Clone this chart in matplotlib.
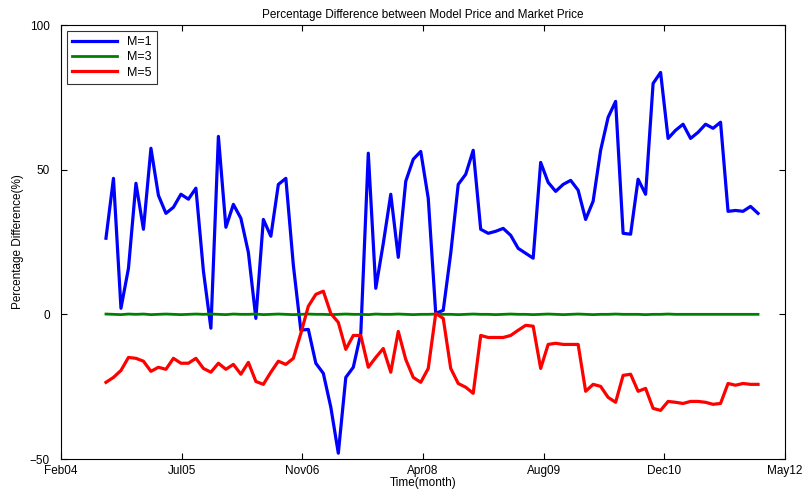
import numpy as np
import matplotlib
matplotlib.use("Agg")
import matplotlib.pyplot as plt

# monthly observations, Aug04 .. Jan12 (88 points)
m1 = [26.3, 47.0, 2.1, 15.9, 45.3, 29.4, 57.4, 41.1, 34.9, 37.0, 41.5, 39.8, 43.6, 15.0,
      -4.8, 61.5, 30.1, 38.0, 33.2, 21.4, -1.4, 32.8, 27.0, 44.9, 47.0, 17.0, -5.5, -5.2,
      -16.9, -20.4, -32.1, -48.0, -21.8, -18.3, -6.6, 55.7, 9.0, 24.5, 41.5, 19.7, 46.0, 53.6,
      56.3, 40.1, 0.3, 1.4, 21.1, 44.9, 48.4, 56.7, 29.4, 28.0, 28.7, 29.7, 27.3, 22.8, 21.1,
      19.4, 52.5, 45.6, 42.5, 44.9, 46.3, 42.9, 32.8, 39.1, 56.7, 68.1, 73.6, 28.0, 27.7, 46.7,
      41.5, 79.8, 83.6, 60.8, 63.6, 65.7, 60.8, 62.9, 65.7, 64.3, 66.4, 35.6, 35.9, 35.6, 37.3, 34.9]
m5 = [-23.5, -21.8, -19.4, -14.9, -15.2, -16.2, -19.7, -18.3, -19.0, -15.2, -16.9, -16.9, -15.2,
      -18.7, -20.0, -16.9, -19.0, -17.3, -20.7, -16.6, -23.2, -24.2, -20.0, -16.2, -17.3, -15.2,
      -6.6, 2.8, 6.9, 8.0, 0.3, -2.8, -12.1, -7.3, -7.3, -18.3, -14.9, -11.8, -20.0, -5.9, -15.6,
      -21.8, -23.5, -18.7, 0.3, -1.4, -18.7, -23.9, -25.2, -27.3, -7.3, -8.0, -8.0, -8.0, -7.3,
      -5.5, -3.8, -4.1, -18.7, -10.4, -10.0, -10.4, -10.4, -10.4, -26.6, -24.2, -24.9, -28.7,
      -30.4, -21.1, -20.7, -26.6, -25.6, -32.5, -33.2, -30.1, -30.4, -30.8, -30.1, -30.1, -30.4,
      -31.1, -30.8, -23.9, -24.5, -23.9, -24.2, -24.2]
m3 = [0.1, 0.0, -0.1, 0.1, 0.0, 0.1, -0.1, 0.0, 0.1, 0.0, -0.1, 0.0, 0.1, 0.0, 0.1, 0.0, -0.1,
      0.1, 0.0, 0.0, 0.1, -0.1, 0.0, 0.1, 0.0, -0.1, 0.0, 0.1, 0.0, 0.0, -0.1, 0.0, 0.1, 0.0,
      0.0, -0.1, 0.1, 0.0, 0.0, 0.1, 0.0, -0.1, 0.0, 0.0, 0.1, 0.0, 0.0, -0.1, 0.0, 0.1, 0.0,
      0.0, -0.1, 0.0, 0.1, 0.0, 0.0, -0.1, 0.0, 0.1, 0.0, -0.1, 0.0, 0.1, 0.0, -0.1, 0.0, 0.0,
      0.1, 0.0, 0.0, 0.0, -0.1, 0.0, 0.0, 0.1, 0.0, 0.0, 0.0, 0.0, 0.0, 0.0, 0.0, 0.0, 0.0, 0.0, 0.0, 0.0]
tick_pos = [-6.0, 10.1, 26.2, 42.3, 58.4, 74.5, 90.6]
tick_lab = ['Feb04', 'Jul05', 'Nov06', 'Apr08', 'Aug09', 'Dec10', 'May12']

x = np.arange(len(m1))
plt.rcParams['font.family'] = 'Liberation Sans'
plt.rcParams['font.size'] = 8.5
fig = plt.figure(figsize=(8.12, 4.98), dpi=100)
ax = fig.add_axes([61/812, 39/498, 724/812, 434/498])
ax.plot(x, m1, color='#0000ff', lw=2.3, label='M=1')
ax.plot(x, m3, color='#008000', lw=2.0, label='M=3')
ax.plot(x, m5, color='#ff0000', lw=2.3, label='M=5')
ax.set_xlim(tick_pos[0], tick_pos[-1])
ax.set_ylim(-50, 100)
ax.set_xticks(tick_pos)
ax.set_xticklabels(tick_lab)
ax.set_yticks([-50, 0, 50, 100])
ax.tick_params(direction='in', length=4, top=True, right=True)
ax.tick_params(axis='x', pad=4)
ax.tick_params(axis='y', pad=8)
ax.set_xlabel('Time(month)', labelpad=0)
ax.set_ylabel('Percentage Difference(%)', labelpad=4)
ax.set_title('Percentage Difference between Model Price and Market Price', fontsize=8.5, pad=5)
leg = ax.legend(loc='upper left', fancybox=False, edgecolor='black', borderpad=0.4,
                handlelength=3.6, labelspacing=0.25, borderaxespad=0.5, fontsize=9)
leg.get_frame().set_linewidth(0.8)
fig.savefig('out.png', dpi=100)
